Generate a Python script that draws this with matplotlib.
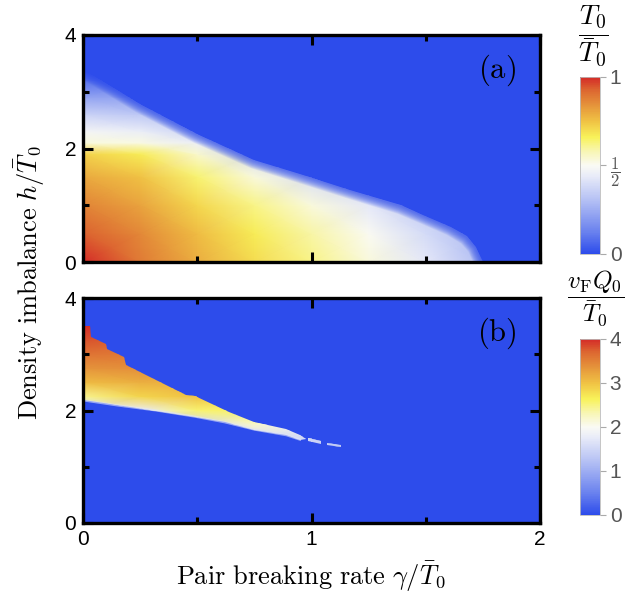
import numpy as np
import matplotlib
matplotlib.use("Agg")
import matplotlib.pyplot as plt
from matplotlib.colors import LinearSegmentedColormap, Normalize
from matplotlib.path import Path
from matplotlib.patches import PathPatch
from matplotlib.cm import ScalarMappable
from matplotlib.ticker import MultipleLocator

plt.rcParams['font.family'] = ['Liberation Sans', 'DejaVu Sans']
plt.rcParams['mathtext.fontset'] = 'cm'

# ---------------- data ----------------
# panel (a): T0 / T0bar on a grid (rows: h, cols: gamma)
gamma_a = [0.0, 0.25, 0.5, 0.75, 1.0, 1.25, 1.5, 1.75, 2.0]
h_a = [0.0, 0.5, 1.0, 1.5, 1.9, 2.1, 2.3, 2.6, 2.9, 3.2, 3.5, 4.0]
T0_a = [
    [1.00, 0.89, 0.79, 0.70, 0.62, 0.53, 0.43, 0.30, 0.28],
    [0.93, 0.86, 0.76, 0.67, 0.59, 0.50, 0.39, 0.28, 0.28],
    [0.87, 0.81, 0.71, 0.62, 0.53, 0.43, 0.32, 0.28, 0.28],
    [0.80, 0.75, 0.64, 0.53, 0.40, 0.32, 0.28, 0.28, 0.28],
    [0.72, 0.67, 0.55, 0.38, 0.30, 0.28, 0.28, 0.28, 0.28],
    [0.53, 0.52, 0.45, 0.32, 0.30, 0.28, 0.28, 0.28, 0.28],
    [0.48, 0.45, 0.36, 0.30, 0.28, 0.28, 0.28, 0.28, 0.28],
    [0.36, 0.33, 0.28, 0.28, 0.28, 0.28, 0.28, 0.28, 0.28],
    [0.22, 0.22, 0.25, 0.28, 0.28, 0.28, 0.28, 0.28, 0.28],
    [0.08, 0.10, 0.20, 0.28, 0.28, 0.28, 0.28, 0.28, 0.28],
    [0.00, 0.00, 0.20, 0.28, 0.28, 0.28, 0.28, 0.28, 0.28],
    [0.00, 0.00, 0.20, 0.28, 0.28, 0.28, 0.28, 0.28, 0.28],
]
# outer edge of the finite-T0 region in (a)
edge_a_gamma = [0.0, 0.25, 0.5, 0.75, 0.95, 1.17, 1.39, 1.49, 1.61, 1.68, 1.72, 1.75]
edge_a_h = [3.4, 2.78, 2.25, 1.8, 1.55, 1.27, 1.0, 0.83, 0.62, 0.45, 0.27, 0.0]

# panel (b): vF Q0 / T0bar on a grid (rows: h, cols: gamma)
gamma_b = [0.0, 0.25, 0.5, 0.75, 1.0, 1.25]
h_b = [1.25, 1.5, 1.75, 2.0, 2.25, 2.5, 2.75, 3.0, 3.25, 3.5, 3.75]
Q0_b = [
    [1.4, 1.2, 1.5, 1.5, 1.3, 1.2],
    [1.4, 1.2, 1.5, 1.6, 1.5, 1.3],
    [1.4, 1.2, 1.5, 2.2, 1.8, 1.5],
    [1.4, 1.8, 2.55, 2.6, 2.2, 2.0],
    [2.45, 2.85, 3.0, 2.8, 2.5, 2.3],
    [3.05, 3.15, 3.1, 3.0, 2.8, 2.5],
    [3.35, 3.4, 3.3, 3.2, 3.0, 2.8],
    [3.6, 3.55, 3.4, 3.3, 3.2, 3.0],
    [3.8, 3.7, 3.5, 3.4, 3.3, 3.2],
    [4.0, 3.9, 3.7, 3.5, 3.4, 3.3],
    [4.0, 4.0, 3.8, 3.6, 3.5, 3.4],
]
# edges of the finite-Q0 wedge in (b)
upper_b_gamma = [0.0, 0.03, 0.035, 0.10, 0.105, 0.18, 0.19, 0.45, 0.49, 0.64, 0.75, 0.89, 0.95, 0.975]
upper_b_h = [3.5, 3.5, 3.3, 3.19, 3.1, 2.96, 2.81, 2.27, 2.26, 1.97, 1.8, 1.68, 1.57, 1.5]
lower_b_gamma = [0.95, 0.89, 0.75, 0.62, 0.49, 0.32, 0.15, 0.0]
lower_b_h = [1.48, 1.56, 1.66, 1.79, 1.89, 2.0, 2.09, 2.18]
dash1_gamma = [0.985, 1.04, 1.04, 0.985]
dash1_h = [1.51, 1.45, 1.41, 1.46]
dash2_gamma = [1.07, 1.13, 1.13, 1.07]
dash2_h = [1.43, 1.39, 1.35, 1.39]

x_ticks = [0, 1, 2]
y_ticks = [0, 2, 4]

# ---------------- style ----------------
cmap = LinearSegmentedColormap.from_list('tm', [
    (0.0, '#2d4ceb'),
    (0.12, '#6880ee'),
    (0.3, '#b3bff4'),
    (0.44, '#e8ebf8'),
    (0.5, '#fafaf4'),
    (0.58, '#f8f6b4'),
    (0.66, '#f8f25a'),
    (0.75, '#f0c244'),
    (0.85, '#e48f3a'),
    (0.93, '#dc6530'),
    (1.0, '#d42a28'),
])
blue = cmap(0.0)

W, H = 634, 597
fig = plt.figure(figsize=(W / 100, H / 100), dpi=100)

def fx(px):
    return px / W

def fy(py):
    return 1 - py / H

ax_a = fig.add_axes([fx(83), fy(262), fx(540) - fx(83), fy(35) - fy(262)])
ax_b = fig.add_axes([fx(83), fy(523), fx(540) - fx(83), fy(298) - fy(523)])
cax_a = fig.add_axes([fx(580), fy(254), fx(600) - fx(580), fy(77) - fy(254)])
cax_b = fig.add_axes([fx(580), fy(515), fx(600) - fx(580), fy(339) - fy(515)])

norm_a = Normalize(0, 1)
norm_b = Normalize(0, 4)

# panel (a)
ax_a.set_facecolor(blue)
Ga, Ha = np.meshgrid(gamma_a, h_a)
mesh_a = ax_a.pcolormesh(Ga, Ha, np.array(T0_a), cmap=cmap, norm=norm_a, shading='gouraud')
verts_a = [(0.0, 0.0)] + list(zip(edge_a_gamma, edge_a_h)) + [(0.0, 0.0)]
clip_a = PathPatch(Path(verts_a, closed=True), transform=ax_a.transData, facecolor='none', edgecolor='none')
ax_a.add_patch(clip_a)
mesh_a.set_clip_path(clip_a)
# soft fall-off of T0 towards the outer edge (many faint strokes -> smooth gradient)
for lw in np.linspace(1.5, 13, 16):
    ax_a.plot(edge_a_gamma, edge_a_h, color=blue, lw=lw, alpha=0.07,
              solid_capstyle='butt', solid_joinstyle='round')

# panel (b)
ax_b.set_facecolor(blue)
Gb, Hb = np.meshgrid(gamma_b, h_b)
mesh_b = ax_b.pcolormesh(Gb, Hb, np.array(Q0_b), cmap=cmap, norm=norm_b, shading='gouraud')
wedge = list(zip(upper_b_gamma, upper_b_h)) + list(zip(lower_b_gamma, lower_b_h))
paths = [Path(wedge + [wedge[0]], closed=True),
         Path(list(zip(dash1_gamma, dash1_h)) + [(dash1_gamma[0], dash1_h[0])], closed=True),
         Path(list(zip(dash2_gamma, dash2_h)) + [(dash2_gamma[0], dash2_h[0])], closed=True)]
clip_b = PathPatch(Path.make_compound_path(*paths), transform=ax_b.transData, facecolor='none', edgecolor='none')
ax_b.add_patch(clip_b)
mesh_b.set_clip_path(clip_b)
ax_b.plot(lower_b_gamma, lower_b_h, color='#dfe4fa', lw=1.5, alpha=0.6)

for ax, lab in [(ax_a, '(a)'), (ax_b, '(b)')]:
    ax.set_xlim(0, 2)
    ax.set_ylim(0, 4)
    ax.set_xticks(x_ticks)
    ax.set_yticks(y_ticks)
    ax.xaxis.set_minor_locator(MultipleLocator(0.5))
    ax.yaxis.set_minor_locator(MultipleLocator(1))
    ax.tick_params(which='both', direction='in', top=True, right=True, width=2.2, colors='black', labelsize=15)
    ax.tick_params(which='major', length=7, pad=5)
    ax.tick_params(which='minor', length=4)
    for s in ax.spines.values():
        s.set_linewidth(2.4)
        s.set_zorder(5)
    ax.text(1.81, 3.38, r'$\mathrm{' + lab + '}$', fontsize=22, ha='center', va='center')
ax_a.set_xticklabels([])
ax_b.set_xticklabels([str(t) for t in x_ticks])

# colorbars
cb_a = fig.colorbar(ScalarMappable(norm=norm_a, cmap=cmap), cax=cax_a)
cb_a.set_ticks([0, 0.5, 1])
cb_a.set_ticklabels(['0', r'$\dfrac{\mathsf{1}}{\mathsf{2}}$', '1'])
cb_b = fig.colorbar(ScalarMappable(norm=norm_b, cmap=cmap), cax=cax_b)
cb_b.set_ticks([0, 1, 2, 3, 4])
for cb in (cb_a, cb_b):
    cb.outline.set_linewidth(0.6)
    cb.outline.set_edgecolor('#bbbbbb')
    cb.ax.tick_params(length=4, width=0.8, color='#aaaaaa', labelcolor='#555555', labelsize=15, pad=3)
for lbl in cb_a.ax.get_yticklabels():
    if 'frac' in lbl.get_text():
        lbl.set_fontsize(12)

fig.text(fx(593), fy(36), r'$\dfrac{T_0}{\bar{T}_0}$', fontsize=20, ha='center', va='center')
fig.text(fx(596), fy(298), r'$\dfrac{v_{\mathrm{F}}Q_0}{\bar{T}_0}$', fontsize=18, ha='center', va='center')

fig.text(fx(311), fy(577), r'$\mathrm{Pair\ breaking\ rate}\ \gamma/\bar{T}_0$', fontsize=19, ha='center', va='center')
fig.text(fx(30), fy(283), r'$\mathrm{Density\ imbalance}\ h/\bar{T}_0$', fontsize=19, ha='center', va='center', rotation=90)

fig.savefig('out.png', dpi=100)
